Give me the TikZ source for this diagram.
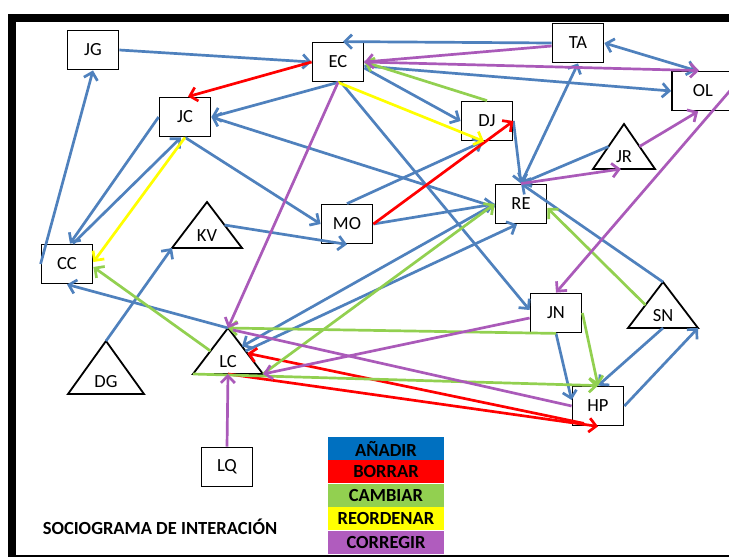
\documentclass[tikz,border=0pt]{standalone}
\usepackage{fontspec}
\setmainfont{Carlito}
\usetikzlibrary{calc,positioning,arrows.meta}

\definecolor{azul}{RGB}{79,129,189}
\definecolor{rojo}{RGB}{255,0,0}
\definecolor{verde}{RGB}{146,208,80}
\definecolor{amarillo}{RGB}{255,255,0}
\definecolor{morado}{RGB}{170,90,185}
\definecolor{azulley}{RGB}{0,112,192}
\definecolor{moradoley}{RGB}{176,92,190}

% name, apex x, apex y, half base, height, label
\newcommand{\triang}[6]{%
	\coordinate (#1-a) at (#2,#3);
	\coordinate (#1-l) at ({#2-#4},{#3+#5});
	\coordinate (#1-r) at ({#2+#4},{#3+#5});
	\draw[borde] (#1-a) -- (#1-l) -- (#1-r) -- cycle;
	\node[lbl] (#1) at ({#2},{#3+#5-12}) {#6};
}

\begin{document}
\begin{tikzpicture}[x=1pt,y=-1pt,
	borde/.style={line width=1.8pt},
	caja/.style={draw,line width=1.8pt,minimum width=51pt,minimum height=39pt,inner sep=0pt,font=\fontsize{18.5}{21}\selectfont},
	lbl/.style={inner sep=0pt,font=\fontsize{18.5}{21}\selectfont},
	flecha/.style={line width=2.7pt,-{Straight Barb[length=7pt,width=14pt]}},
	doble/.style={line width=2.7pt,{Straight Barb[length=7pt,width=14pt]}-{Straight Barb[length=7pt,width=14pt]}},
	ley/.style={minimum width=116pt,minimum height=23pt,inner sep=0pt,font=\fontsize{18.5}{20}\selectfont\bfseries}]

	\clip (0,0) rectangle (729,557);
	\fill[white] (0,0) rectangle (729,557);
	\draw[line width=8pt] (12,18) rectangle (770,559);	%frame

	%boxes
	\node[caja] (JG) at (93,50) {JG};
	\node[caja] (EC) at (338,62) {EC};
	\node[caja] (TA) at (578,43) {TA};
	\node[caja,minimum width=62pt] (OL) at (703,91) {OL};
	\node[caja] (JC) at (185,117) {JC};
	\node[caja] (DJ) at (487,121) {DJ};
	\node[caja] (RE) at (521,204) {RE};
	\node[caja] (MO) at (347,224) {MO};
	\node[caja] (CC) at (67,264) {CC};
	\node[caja] (JN) at (556,313) {JN};
	\node[caja] (HP) at (598,406) {HP};
	\node[caja] (LQ) at (227,467) {LQ};

	%triangles
	\triang{KV}{207}{202}{35}{46}{KV}
	\triang{JR}{624}{124}{31}{45}{JR}
	\triang{SN}{663}{282}{35}{46}{SN}
	\triang{DG}{106}{341}{38}{53}{DG}
	\triang{LC}{228}{328}{35}{46}{LC}

	%azul
	\draw[flecha,azul] (JG.east) -- (EC.west);
	\draw[flecha,azul] (TA.west) -- ([xshift=5pt]EC.north);
	\draw[flecha,azul] ([yshift=-4pt]EC.east) -- (OL.west);
	\draw[doble,azul] (TA.east) -- ($(OL.north west)+(25,0)$);
	\draw[flecha,azul] ([yshift=-6pt]EC.east) -- (DJ.west);
	\draw[flecha,azul] (EC.south) -- (JC.east);
	\draw[flecha,azul] ([xshift=3pt]EC.south) -- ([yshift=3pt]JN.west);
	\draw[flecha,azul] (JC.west) -- ([xshift=3pt]CC.north);
	\draw[flecha,azul] ([xshift=6pt]CC.north) -- ([xshift=-4pt]JC.south);
	\draw[flecha,azul] (JC.south) -- (MO.west);
	\draw[flecha,azul] (CC.west) -- (JG.south);
	\draw[flecha,azul] ([yshift=-3pt]RE.west) -- (JC.east);
	\draw[flecha,azul] ($(KV-a)!0.5!(KV-r)$) -- (MO.south);
	\draw[flecha,azul] (MO.east) -- (RE.west);
	\draw[flecha,azul] (MO.north) -- ([xshift=-4pt]DJ.south);
	\draw[flecha,azul] (DJ.east) -- (RE.north);
	\draw[doble,azul] (RE.north) -- (TA.south);
	\draw[flecha,azul] ($(JR-a)!0.5!(JR-l)$) -- (RE.north);
	\draw[flecha,azul] (SN-a) -- (RE.north);
	\draw[flecha,azul] ($(SN-l)!0.5!(SN-r)$) -- (HP.north);
	\draw[flecha,azul] (HP.east) -- (SN-r);
	\draw[flecha,azul] (JN.south) -- ([yshift=6pt]HP.west);
	\draw[flecha,azul] (RE.west) -- ($(LC-a)!0.4!(LC-r)$);
	\draw[flecha,azul] ($(LC-a)!0.5!(LC-r)$) -- ([xshift=-4pt]RE.south);
	\draw[flecha,azul] (LC-a) -- (CC.south);
	\draw[flecha,azul] (DG-a) -- (KV-l);

	%rojo
	\draw[flecha,rojo] (EC.west) -- ([xshift=3pt]JC.north);
	\draw[flecha,rojo] (MO.east) -- (DJ.east);
	\draw[flecha,rojo] ($(LC-l)!0.5!(LC-r)$) -- (HP.south);
	\draw[flecha,rojo] ([xshift=-14pt,yshift=3pt]HP.south) -- ($(LC-a)!0.55!(LC-r)$);

	%verde
	\draw[flecha,verde] (DJ.north) -- (EC.east);
	\draw[flecha,verde] ($(SN-a)!0.5!(SN-l)$) -- ([yshift=-4pt]RE.east);
	\draw[flecha,verde] (JN.east) -- (HP.north);
	\draw[flecha,verde] (JN.south) -- (LC-a);
	\draw[flecha,verde] (LC-l) -- (HP.north);
	\draw[flecha,verde] (LC-r) -- (RE.west);
	\draw[flecha,verde] ($(LC-a)!0.5!(LC-l)$) -- ([yshift=-3pt]CC.east);

	%amarillo
	\draw[flecha,amarillo] (EC.south) -- ([xshift=-3pt]DJ.south);
	\draw[flecha,amarillo] (JC.south) -- ([yshift=2pt]CC.east);

	%morado
	\draw[flecha,morado] ([yshift=-3pt]TA.west) -- (EC.east);
	\draw[flecha,morado] (EC.east) -- ($(OL.north west)+(28,0)$);
	\draw[flecha,morado] (EC.south) -- (LC-a);
	\draw[flecha,morado] (RE.north) -- ($(JR-l)!0.45!(JR-r)$);
	\draw[flecha,morado] ($(JR-a)!0.5!(JR-r)$) -- ($(OL.south west)+(27,0)$);
	\draw[flecha,morado] ([yshift=6pt]OL.east) -- (JN.north);
	\draw[flecha,morado] ([yshift=-5pt]JN.west) -- (LC-r);
	\draw[morado,line width=2.7pt] (HP.west) -- ([xshift=5pt,yshift=-2pt]LC-a);
	\draw[flecha,morado] (LQ.north) -- ($(LC-l)!0.5!(LC-r)$);

	%legend
	\node[ley,fill=azulley] (anadir) at (386,448.5) {AÑADIR};
	\node[ley,fill=rojo,below=0pt of anadir] (borrar) {BORRAR};
	\node[ley,fill=verde,below=0pt of borrar] (cambiar) {CAMBIAR};
	\node[ley,fill=amarillo,below=0pt of cambiar] (reordenar) {REORDENAR};
	\node[ley,fill=moradoley,below=0pt of reordenar] (corregir) {CORREGIR};

	\node[font=\fontsize{18.5}{21}\selectfont\bfseries] (titulo) at (160,527) {SOCIOGRAMA DE INTERACIÓN};

\end{tikzpicture}
\end{document}
